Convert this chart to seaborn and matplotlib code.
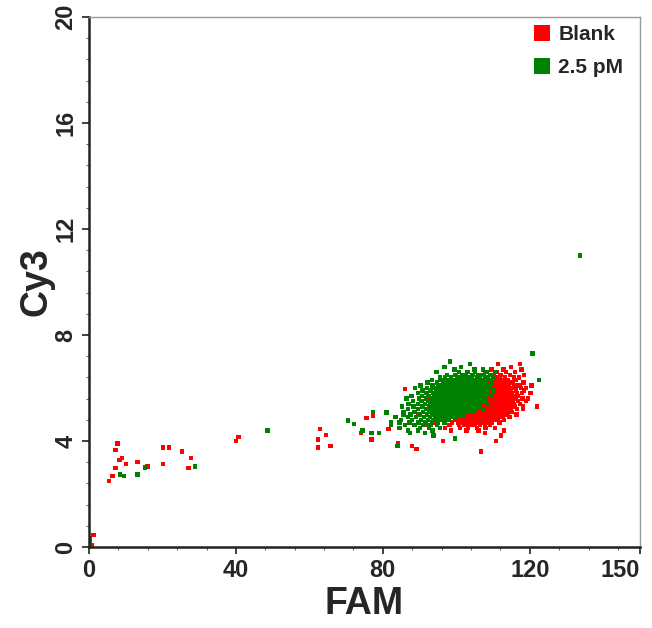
import pandas as pd
import numpy as np
import seaborn as sns
import matplotlib.pyplot as plt
from matplotlib.ticker import FixedLocator, MultipleLocator

# series names / colours
samples = ["Blank", "2.5 pM"]
colors = {"Blank": "#ff0000", "2.5 pM": "#008000"}

# Blank: sparse events along the diagonal (FAM, Cy3)
blank_tail = [(0.7, 0.08), (1.2, 0.45), (5.5, 2.49), (6.4, 2.67), (7.2, 2.97), (7.2, 3.66),
              (7.8, 3.91), (8.1, 3.28), (8.4, 3.28), (9.0, 3.35), (10.1, 3.12), (13.2, 3.21),
              (15.3, 3.01), (15.9, 3.04), (20.1, 3.75), (21.8, 3.75), (20.1, 3.12), (25.4, 3.6),
              (27.8, 3.36), (27.1, 2.97), (40.1, 3.99), (40.7, 4.14), (62.3, 4.06), (62.3, 3.75),
              (62.9, 4.45), (64.5, 4.23), (65.8, 3.82), (75.6, 4.86), (77.4, 4.94), (74.0, 4.31),
              (76.9, 4.06), (81.5, 4.45), (84.2, 3.82), (86.0, 5.95), (92.3, 5.67)]

# Blank: main cluster, one row per Cy3 level -> FAM values
blank_rows = [
    (6.9, [111.4, 117.3]),
    (6.8, [114.9]),
    (6.7, [109.6, 112.8, 117.8]),
    (6.6, [108.0, 111.0, 113.5, 116.0]),
    (6.5, [107.2, 110.2, 112.0, 114.6, 118.5]),
    (6.4, [106.5, 108.6, 110.4, 111.8, 113.2, 115.7, 117.0]),
    (6.3, [105.8, 108.2, 109.6, 110.7, 111.6, 112.7, 114.0, 116.3]),
    (6.2, [107.2, 108.5, 109.4, 110.3, 111.2, 112.1, 113.0, 114.2, 115.5, 118.3]),
    (6.1, [106.4, 108.9, 109.8, 110.7, 111.6, 112.5, 113.4, 114.4, 115.8, 117.2, 120.5]),
    (6.0, [104.5, 108.0, 109.3, 110.2, 111.1, 112.0, 112.9, 113.8, 114.7, 115.8, 117.6, 119.0]),
    (5.9, [105.6, 108.6, 109.5, 110.4, 111.3, 112.2, 113.1, 114.0, 114.9, 116.2, 118.4]),
    (5.8, [103.5, 107.8, 108.8, 109.7, 110.6, 111.5, 112.4, 113.3, 114.2, 115.1, 116.5, 117.9, 120.2]),
    (5.7, [105.0, 108.3, 109.2, 110.1, 111.0, 111.9, 112.8, 113.7, 114.6, 115.6, 116.8]),
    (5.6, [102.0, 106.4, 107.8, 108.7, 109.6, 110.5, 111.4, 112.3, 113.2, 114.1, 115.0, 116.2, 118.0, 119.5]),
    (5.5, [104.4, 107.2, 108.1, 109.0, 109.9, 110.8, 111.7, 112.6, 113.5, 114.4, 115.4, 116.8, 119.0]),
    (5.4, [103.6, 106.5, 107.4, 108.3, 109.2, 110.1, 111.0, 111.9, 112.8, 113.7, 114.6, 115.6, 117.4]),
    (5.3, [100.8, 105.2, 106.8, 107.7, 108.6, 109.5, 110.4, 111.3, 112.2, 113.1, 114.0, 114.9, 116.0, 118.2, 121.9]),
    (5.2, [103.0, 105.8, 106.6, 107.4, 108.2, 109.0, 109.8, 110.6, 111.4, 112.2, 113.0, 113.8, 114.8, 116.6, 118.2]),
    (5.1, [99.2, 102.4, 104.2, 105.0, 105.8, 106.6, 107.4, 108.2, 109.0, 109.8, 110.6, 111.4, 112.2, 113.0, 113.9, 115.2]),
    (5.0, [89.6, 100.6, 101.6, 102.4, 103.2, 104.0, 104.8, 105.6, 106.4, 107.2, 108.0, 108.8, 109.6, 110.4, 111.2, 112.0, 112.9, 114.0, 116.4]),
    (4.9, [97.8, 100.2, 101.0, 101.8, 102.6, 103.4, 104.2, 105.0, 105.8, 106.6, 107.4, 108.2, 109.0, 109.8, 110.6, 111.5, 112.6, 114.5]),
    (4.8, [96.2, 99.6, 100.6, 101.4, 102.2, 103.0, 103.8, 104.6, 105.4, 106.2, 107.0, 107.8, 108.6, 109.4, 110.3, 111.4, 113.0]),
    (4.7, [94.5, 98.8, 100.4, 101.4, 102.4, 103.4, 104.4, 105.4, 106.4, 107.4, 108.4, 109.6, 111.8]),
    (4.6, [92.0, 98.2, 100.8, 102.2, 103.6, 105.0, 106.4, 107.8, 109.2]),
    (4.5, [97.0, 101.0, 103.2, 105.6, 108.0, 110.5]),
    (4.4, [98.5, 102.8, 106.0, 113.0]),
    (4.3, [107.8]),
    (4.2, [112.1]),
    (4.0, [96.4, 110.8]),
    (3.9, [84.2]),
    (3.8, [88.0]),
    (3.7, [89.2]),
    (3.6, [106.7]),
]

# 2.5 pM: sparse events
pm_tail = [(0.1, 0.05), (0.1, 0.2), (0.1, 0.35), (8.4, 2.74), (9.5, 2.67), (13.2, 2.74),
           (15.3, 2.97), (28.9, 3.04), (48.6, 4.39), (70.5, 4.78), (72.1, 4.63), (74.5, 4.39),
           (77.4, 5.09), (76.9, 4.31), (79.0, 4.31), (81.0, 5.08), (82.2, 4.6), (84.5, 4.69),
           (120.7, 7.3), (133.7, 11.0)]

# 2.5 pM: main cluster
pm_rows = [
    (7.0, [98.3]),
    (6.9, [103.7]),
    (6.8, [96.8, 101.2]),
    (6.7, [99.5, 105.0, 107.3]),
    (6.6, [94.6, 100.8, 103.0, 105.1, 108.2, 110.5]),
    (6.5, [97.5, 99.8, 101.6, 102.5, 104.4, 106.0, 107.4, 109.3]),
    (6.4, [95.5, 97.0, 98.6, 100.3, 101.1, 102.0, 103.2, 104.1, 105.6, 106.4, 108.0, 110.0]),
    (6.3, [93.4, 96.0, 97.8, 98.6, 99.4, 100.2, 101.0, 101.8, 102.6, 103.4, 104.2, 105.0, 106.1, 107.3, 108.8, 122.5]),
    (6.2, [92.2, 94.8, 96.5, 97.3, 98.1, 98.9, 99.7, 100.5, 101.3, 102.1, 102.9, 103.7, 104.5, 105.3, 106.1, 106.9, 107.8, 109.6]),
    (6.1, [90.3, 93.5, 95.2, 96.0, 96.8, 97.6, 98.4, 99.2, 100.0, 100.8, 101.6, 102.4, 103.2, 104.0, 104.8, 105.6, 106.4, 107.2, 108.1, 109.0]),
    (6.0, [88.7, 92.0, 94.3, 95.1, 95.9, 96.7, 97.5, 98.3, 99.1, 99.9, 100.7, 101.5, 102.3, 103.1, 103.9, 104.7, 105.5, 106.3, 107.1, 107.9, 108.8]),
    (5.9, [90.8, 93.0, 94.6, 95.4, 96.2, 97.0, 97.8, 98.6, 99.4, 100.2, 101.0, 101.8, 102.6, 103.4, 104.2, 105.0, 105.8, 106.6, 107.4, 108.3, 110.2]),
    (5.8, [89.5, 91.9, 93.6, 94.5, 95.3, 96.1, 96.9, 97.7, 98.5, 99.3, 100.1, 100.9, 101.7, 102.5, 103.3, 104.1, 104.9, 105.7, 106.5, 107.3, 108.5]),
    (5.7, [87.8, 90.6, 92.5, 94.0, 94.8, 95.6, 96.4, 97.2, 98.0, 98.8, 99.6, 100.4, 101.2, 102.0, 102.8, 103.6, 104.4, 105.2, 106.0, 106.8, 107.7, 109.4]),
    (5.6, [86.4, 89.8, 91.7, 93.1, 94.2, 95.0, 95.8, 96.6, 97.4, 98.2, 99.0, 99.8, 100.6, 101.4, 102.2, 103.0, 103.8, 104.6, 105.4, 106.2, 107.0, 108.0]),
    (5.5, [88.2, 90.5, 92.4, 93.6, 94.6, 95.4, 96.2, 97.0, 97.8, 98.6, 99.4, 100.2, 101.0, 101.8, 102.6, 103.4, 104.2, 105.0, 105.8, 106.6, 107.5]),
    (5.4, [87.0, 89.6, 91.5, 93.0, 94.2, 95.0, 95.8, 96.6, 97.4, 98.2, 99.0, 99.8, 100.6, 101.4, 102.2, 103.0, 103.8, 104.6, 105.4, 106.3, 108.6]),
    (5.3, [85.2, 88.4, 90.8, 92.6, 93.8, 94.9, 95.7, 96.5, 97.3, 98.1, 98.9, 99.7, 100.5, 101.3, 102.1, 102.9, 103.7, 104.5, 105.3, 106.4]),
    (5.2, [86.8, 89.5, 91.9, 93.3, 94.6, 95.6, 96.4, 97.2, 98.0, 98.8, 99.6, 100.4, 101.2, 102.0, 102.8, 103.6, 104.4, 105.4, 107.2]),
    (5.1, [85.6, 88.6, 90.9, 92.7, 94.1, 95.3, 96.3, 97.1, 97.9, 98.7, 99.5, 100.3, 101.1, 101.9, 102.7, 103.6, 104.8]),
    (5.0, [85.6, 87.5, 90.0, 92.0, 93.5, 94.9, 96.0, 96.9, 97.7, 98.5, 99.3, 100.1, 101.0, 102.0]),
    (4.9, [83.5, 86.8, 89.1, 91.2, 92.9, 94.3, 95.6, 96.6, 97.6, 98.6, 99.7]),
    (4.8, [85.0, 88.0, 90.4, 92.3, 93.8, 95.2, 96.5, 97.9]),
    (4.7, [82.2, 87.3, 89.7, 91.6, 93.4, 95.0, 96.8]),
    (4.6, [86.0, 88.6, 91.0, 93.0, 94.8]),
    (4.5, [84.5, 90.2, 92.5, 95.6]),
    (4.4, [86.8, 89.5, 93.5]),
    (4.3, [87.4, 91.5]),
    (4.2, [93.8]),
    (4.1, [99.6]),
    (3.8, [83.8]),
]

# tick labels
x_ticks = [0, 40, 80, 120, 150]
y_ticks = [0, 4, 8, 12, 16, 20]


def expand(rows, tail):
    fam = [x for y, xs in rows for x in xs] + [p[0] for p in tail]
    cy3 = [y for y, xs in rows for x in xs] + [p[1] for p in tail]
    return fam, cy3


blank_fam, blank_cy3 = expand(blank_rows, blank_tail)
pm_fam, pm_cy3 = expand(pm_rows, pm_tail)

df = pd.DataFrame({
    "FAM": blank_fam + pm_fam,
    "Cy3": blank_cy3 + pm_cy3,
    "Sample": [samples[0]] * len(blank_fam) + [samples[1]] * len(pm_fam),
})

sns.set_style("ticks")
plt.rcParams["font.family"] = ["Liberation Sans", "DejaVu Sans"]
plt.rcParams["font.weight"] = "bold"

fig = plt.figure(figsize=(6.52, 6.28), dpi=100)
ax = fig.add_axes([0.1365, 0.129, 0.845, 0.844])

sns.scatterplot(data=df, x="FAM", y="Cy3", hue="Sample", hue_order=samples,
                palette=colors, marker="s", s=10, linewidth=0, ax=ax)

ax.set_xlim(0, 150)
ax.set_ylim(0, 20)
ax.xaxis.set_major_locator(FixedLocator(x_ticks))
ax.yaxis.set_major_locator(FixedLocator(y_ticks))
ax.xaxis.set_minor_locator(MultipleLocator(8))
ax.yaxis.set_minor_locator(MultipleLocator(0.8))
ax.tick_params(which="major", length=5, width=1.3, color="#333333", labelsize=17)
ax.tick_params(which="minor", length=2.5, width=0.8, color="#666666")
ax.tick_params(axis="y", labelrotation=90)
for lab in ax.get_yticklabels():
    lab.set_va("center")
    lab.set_fontweight("bold")
for lab in ax.get_xticklabels():
    lab.set_fontweight("bold")
# last x label sits inside the axis end, like the original
ax.get_xticklabels()[-1].set_ha("right")

for side in ["left", "bottom"]:
    ax.spines[side].set_color("#222222")
    ax.spines[side].set_linewidth(1.8)
for side in ["top", "right"]:
    ax.spines[side].set_color("#999999")
    ax.spines[side].set_linewidth(1.0)

ax.set_xlabel("FAM", fontsize=27, fontweight="bold", labelpad=3)
ax.set_ylabel("Cy3", fontsize=27, fontweight="bold", labelpad=0)

sns.move_legend(ax, "upper right", bbox_to_anchor=(0.985, 1.0), title=None, frameon=False,
                prop={"weight": "bold", "size": 15}, labelspacing=0.65,
                handletextpad=0.35, handlelength=0.9, borderaxespad=0.0)
leg = ax.get_legend()
for h in leg.legend_handles:
    h.set_markersize(11)

fig.savefig("out.png", dpi=100)
